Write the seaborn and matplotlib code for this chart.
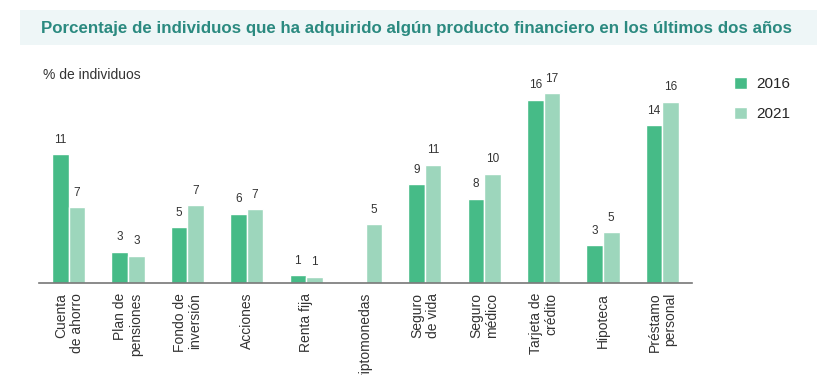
import numpy as np
import pandas as pd
import matplotlib
matplotlib.use("Agg")
import matplotlib.pyplot as plt
from matplotlib.patches import Rectangle
import seaborn as sns

# data
productos = ["Cuenta\nde ahorro", "Plan de\npensiones", "Fondo de\ninversión", "Acciones",
             "Renta fija", "Criptomonedas", "Seguro\nde vida", "Seguro\nmédico",
             "Tarjeta de\ncrédito", "Hipoteca", "Préstamo\npersonal"]
valores_2016 = [11.3, 2.75, 4.9, 6.1, 0.7, np.nan, 8.7, 7.4, 16.1, 3.3, 13.9]
valores_2021 = [6.65, 2.4, 6.85, 6.5, 0.55, 5.15, 10.4, 9.6, 16.7, 4.45, 15.95]
etiquetas_2016 = ["11", "3", "5", "6", "1", None, "9", "8", "16", "3", "14"]
etiquetas_2021 = ["7", "3", "7", "7", "1", "5", "11", "10", "17", "5", "16"]
anios = ["2016", "2021"]

df = pd.DataFrame({
    "Producto": productos * 2,
    "Año": [anios[0]] * len(productos) + [anios[1]] * len(productos),
    "Valor": valores_2016 + valores_2021,
})

sns.set_style("white")
plt.rcParams["font.family"] = ["Liberation Sans", "DejaVu Sans"]

fig, ax = plt.subplots(figsize=(8.25, 3.75), dpi=100)
fig.subplots_adjust(left=39 / 825, right=692 / 825, bottom=1 - 283 / 375, top=1 - 60 / 375)

sns.barplot(data=df, x="Producto", y="Valor", hue="Año", hue_order=anios, order=productos,
            palette=["#46bb87", "#9dd6bc"], width=0.56, saturation=1, ax=ax)

# value labels above the bars
for cont, etiq in zip(ax.containers, [etiquetas_2016, etiquetas_2021]):
    etiq = [e for e in etiq if e is not None]
    ax.bar_label(cont, labels=etiq, padding=6, fontsize=8.5, color="#333333")

ax.set_xlim(-0.5, len(productos) - 0.5)
ax.set_ylim(0, 19.6)
ax.set_xlabel("")
ax.set_ylabel("")
ax.set_yticks([])
ax.set_xticks(range(len(productos)))
ax.set_xticklabels(productos, rotation=90, ha="center", va="top", multialignment="right",
                   fontsize=10, color="#333333", linespacing=1.15)
ax.set_xticks(np.arange(-0.5, len(productos), 1), minor=True)
ax.tick_params(axis="x", which="major", length=0, pad=7)
ax.tick_params(axis="x", which="minor", length=4, direction="in", color="#888888", width=1)
for s in ["top", "right", "left"]:
    ax.spines[s].set_visible(False)
ax.spines["bottom"].set_color("#777777")
ax.spines["bottom"].set_linewidth(1.2)

sns.move_legend(ax, "upper left", bbox_to_anchor=(734 / 825, 1 - 77 / 375),
                bbox_transform=fig.transFigure, title=None, frameon=False, fontsize=11,
                handlelength=0.85, handleheight=0.85, handletextpad=0.6, labelspacing=1.0,
                borderpad=0, borderaxespad=0)

# title banner
fig.patches.append(Rectangle((20 / 825, 1 - 45 / 375), 797 / 825, 35 / 375,
                             transform=fig.transFigure, facecolor="#eef6f7",
                             edgecolor="none", zorder=0))
fig.text(0.505, 1 - 28 / 375, "Porcentaje de individuos que ha adquirido algún producto financiero en los últimos dos años",
         ha="center", va="center", fontsize=12.2, fontweight="bold", color="#2b8a80")
fig.text(43 / 825, 1 - 75 / 375, "% de individuos", ha="left", va="center",
         fontsize=10, color="#333333")

fig.savefig("out.png", dpi=100)
